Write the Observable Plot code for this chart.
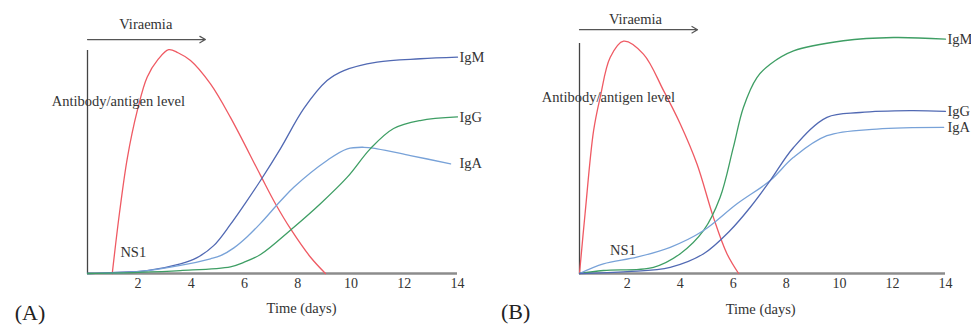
<!DOCTYPE html>
<html><head><meta charset="utf-8">
<script src="https://cdn.jsdelivr.net/npm/d3@7"></script>
<script src="https://cdn.jsdelivr.net/npm/@observablehq/plot@0.6"></script>
<style>
body{margin:0;background:#fff;}
#wrap{display:flex;width:971px;height:325px;overflow:hidden;}
</style></head><body><div id="wrap"></div>
<script>
// ---------- data ----------
const tickDays = [2, 4, 6, 8, 10, 12, 14];
const xTitle = "Time (days)";
const yTitle = "Antibody/antigen level";
const topTitle = "Viraemia";

// Panel A
const aNS1Day   = [1.03, 1.3, 1.6, 1.97, 2.34, 2.75, 3.15, 3.5, 3.97, 4.72, 5.47, 6.6, 7.16, 7.73, 8.48, 9.04];
const aNS1Level = [0, 27, 52, 73, 88, 96, 100.4, 99, 95.5, 85, 70, 44, 31.3, 20, 7.3, 0];
const aIgMDay   = [0.1, 1, 2.34, 3.59, 4.2, 4.84, 5.47, 6.0, 6.6, 7.35, 8.23, 9.1, 9.73, 10.98, 12.6, 14];
const aIgMLevel = [0, 0.4, 1.3, 4.3, 7, 12.5, 22, 31, 41.7, 56, 74, 86.5, 91, 94.8, 96.3, 97];
const aIgADay   = [0.1, 2, 3.59, 4.72, 5.1, 5.6, 6.1, 6.6, 7.35, 7.85, 9.1, 9.86, 10.48, 10.98, 12.23, 13.74];
const aIgALevel = [0, 0.8, 3.6, 6.6, 8, 11.5, 16.5, 22.5, 32.5, 38.7, 50.7, 55.9, 56.6, 55.9, 52.9, 49.2];
const aIgGDay   = [0.1, 2, 3.59, 5.47, 5.97, 6.6, 7.73, 8.85, 9.86, 10.73, 11.6, 12.6, 14];
const aIgGLevel = [0, 0.5, 1.3, 3, 5, 8.5, 19.5, 31.3, 43.2, 56, 65, 68.6, 70.2];

// Panel B
const bNS1Day   = [0.2, 0.41, 0.73, 0.98, 1.36, 1.86, 2.61, 3.37, 4.0, 4.63, 5.25, 5.76, 6.2];
const bNS1Level = [0, 26, 62, 76.6, 94, 101, 95.4, 79.5, 65, 47.6, 24.4, 8.6, 0];
const bIgMDay   = [0.2, 1.1, 2.99, 4.0, 4.88, 5.5, 6.0, 6.38, 6.89, 7.39, 8.27, 10.15, 12.04, 14];
const bIgMLevel = [0, 1.3, 2.7, 8.6, 18.7, 33, 54.8, 72.2, 85.2, 91, 96.8, 101.2, 102.6, 101.9];
const bIgGDay   = [0.2, 2, 3.62, 4.88, 5.88, 6.64, 7.39, 8.27, 9.53, 10.78, 12.67, 14];
const bIgGLevel = [0, 0.8, 2.7, 8.6, 18.7, 28.8, 40.4, 54.8, 67.9, 70, 70.8, 70.5];
const bIgADay   = [0.2, 1.1, 2.36, 3.62, 4.88, 6.14, 7.39, 8.27, 9.53, 11.41, 13.93];
const bIgALevel = [0, 4.2, 7.1, 11.4, 18.7, 30.3, 40.4, 50.5, 59.9, 62.8, 63.5];

// ---------- helpers ----------
const FONT = "'Liberation Serif', 'DejaVu Serif', serif";
const RED = "#ef5a63", DBLUE = "#5169b3", LBLUE = "#78a2d8", GREEN = "#3e9e64";
const rows = (days, levels) => days.map((d, i) => ({day: d, level: levels[i]}));

function panel(cfg) {
  const marks = [];
  marks.push(Plot.ruleY([0], {x1: cfg.xmin, x2: 14, stroke: "#8c8c8c", strokeWidth: 2.5}));
  marks.push(Plot.ruleX([cfg.xmin], {y1: 0, y2: 100, stroke: "#444", strokeWidth: 1.3}));
  marks.push(Plot.axisX({ticks: tickDays, tickSize: 0, tickPadding: 5, fontSize: 14, fill: "#333", label: null}));
  for (const s of cfg.series) {
    marks.push(Plot.line(rows(s.day, s.level), {x: "day", y: "level", stroke: s.color, strokeWidth: 1.3, curve: "catmull-rom"}));
  }
  marks.push(Plot.text(cfg.series.filter(s => s.label), {
    x: 14, y: s => s.level[s.level.length - 1], text: s => s.label,
    textAnchor: "start", dx: 2, fontSize: 14.5, fill: "#333"
  }));
  marks.push(Plot.text([cfg.ann.ns1], {x: "x", y: "y", text: () => "NS1", fontSize: 14.5, fill: "#333"}));
  marks.push(Plot.text([cfg.ann.ylab], {x: "x", y: "y", text: () => yTitle, fontSize: 14.5, fill: "#333"}));
  marks.push(Plot.text([cfg.ann.vir], {x: "x", y: "y", text: () => topTitle, fontSize: 14.5, fill: "#333"}));
  marks.push(Plot.arrow([cfg.ann.arrow], {x1: "x1", y1: "y", x2: "x2", y2: "y", stroke: "#555", strokeWidth: 1.2, headLength: 8}));
  marks.push(Plot.text([cfg.ann.xlab], {x: "x", y: "y", text: () => xTitle, fontSize: 14.5, fill: "#333"}));
  marks.push(Plot.text([cfg.ann.tag], {x: "x", y: "y", text: () => cfg.tag, fontSize: 22, fill: "#222"}));

  return Plot.plot({
    width: cfg.width, height: 325,
    marginLeft: cfg.ml, marginRight: cfg.mr, marginTop: cfg.mt, marginBottom: 52,
    x: {domain: [cfg.xmin, 14], axis: null},
    y: {domain: [0, 100], axis: null},
    style: {fontFamily: FONT, fontSize: "14px", background: "white", color: "#333", overflow: "visible"},
    marks
  });
}

const wrap = document.getElementById("wrap");
wrap.append(panel({
  width: 490, ml: 87, mr: 33, mt: 50, xmin: 0.1, tag: "(A)",
  series: [
    {day: aNS1Day, level: aNS1Level, color: RED},
    {day: aIgMDay, level: aIgMLevel, color: DBLUE, label: "IgM"},
    {day: aIgADay, level: aIgALevel, color: LBLUE, label: "IgA"},
    {day: aIgGDay, level: aIgGLevel, color: GREEN, label: "IgG"}
  ],
  ann: {
    ns1: {x: 1.82, y: 9.6}, ylab: {x: 1.26, y: 77.1}, vir: {x: 2.29, y: 111.7},
    arrow: {x1: 0.1, x2: 4.53, y: 104.9}, xlab: {x: 8.14, y: -15.7}, tag: {x: -2.06, y: -17.5}
  }
}));
wrap.append(panel({
  width: 481, ml: 89, mr: 26, mt: 43, xmin: 0.2, tag: "(B)",
  series: [
    {day: bNS1Day, level: bNS1Level, color: RED},
    {day: bIgMDay, level: bIgMLevel, color: GREEN, label: "IgM"},
    {day: bIgADay, level: bIgALevel, color: LBLUE, label: "IgA"},
    {day: bIgGDay, level: bIgGLevel, color: DBLUE, label: "IgG"}
  ],
  ann: {
    ns1: {x: 1.84, y: 10}, ylab: {x: 1.29, y: 76.6}, vir: {x: 2.31, y: 110.6},
    arrow: {x1: 0.2, x2: 4.65, y: 106}, xlab: {x: 7.03, y: -15.6}, tag: {x: -2.21, y: -16.9}
  }
}));
</script></body></html>
